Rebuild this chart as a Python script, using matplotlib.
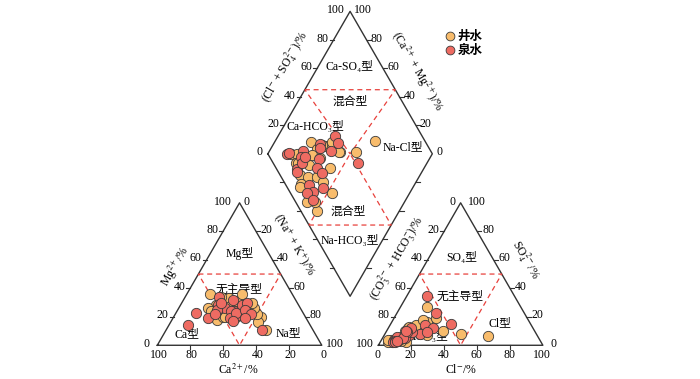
import numpy as np
import matplotlib
matplotlib.use('Agg')
from matplotlib import pyplot as plt

plt.rcParams['font.family'] = ['Liberation Serif', 'DejaVu Serif', 'Noto Sans CJK SC']
plt.rcParams['mathtext.fontset'] = 'stix'

# milliequivalent percentages (cations: Ca/Mg/Na+K, anions: HCO3+CO3/SO4/Cl)
well_na = [21.9, 32.1, 34.6, 43.3, 28.3, 14.0, 17.6, 25.0, 27.0, 53.0, 20.4, 42.8, 29.0, 27.0,
           32.7, 37.8, 43.5, 30.6, 52.7, 40.4, 49.7, 60.7, 45.5, 33.3, 42.7, 30.0, 31.0, 21.9]
well_mg = [28, 24, 22, 26, 30, 36, 26, 20, 33, 20, 24, 22, 27, 18,
           31, 20, 27, 24, 16.6, 29, 22, 11, 26, 36, 30, 20, 20, 34]
well_so4 = [12, 16, 27, 19, 9, 5, 2, 8, 11, 8, 4, 7, 10, 3,
            6, 8, 12, 2.5, 13, 2, 4, 6.5, 3, 14, 10, 18, 4, 3]
well_cl = [18.2, 21.4, 16, 25.6, 22.9, 8.6, 15.5, 13.5, 15.4, 46.2, 9.9, 25.9, 11.4, 9.1,
           10.6, 13.7, 12, 7, 12, 4.8, 5.7, 63.4, 8.9, 16.1, 34.2, 18, 4, 12.2]

spring_na = [28.2, 34.6, 39.0, 37.3, 11.5, 20.3, 21.2, 33.1, 58.3, 23.1, 35.0,
             39.4, 36.2, 40.9, 37.5, 45.8, 43.8, 24.0, 23.9, 23.7, 12.5, 30.0]
spring_mg = [26, 24, 21, 28, 14.5, 34, 19, 24, 11, 28, 19,
             30, 23, 25, 17, 22, 19, 25, 22, 30, 22.5, 32]
spring_so4 = [14, 34.6, 23, 12, 4, 7, 5, 8, 15, 3, 9,
              12, 4, 6, 2, 9, 3, 2, 5, 10, 3, 9]
spring_cl = [21.2, 12.4, 23.6, 27.1, 7.7, 15.1, 13.8, 21.6, 36.8, 9.7, 16.2,
             14.1, 10.3, 8.3, 7.8, 12.6, 8.4, 9, 12.4, 11.6, 10, 25]

groups = ['井水', '泉水']
colors = ['#F8BC6C', '#EE6B62']

H = np.sqrt(3) / 2
GAP = 34.4
OFF = 100 + GAP
DX0 = 50 + GAP / 2
DY0 = 100 * H + GAP * H


def cat_xy(na, mg):
    na, mg = np.asarray(na), np.asarray(mg)
    return na + mg / 2, mg * H


def an_xy(cl, so4):
    cl, so4 = np.asarray(cl), np.asarray(so4)
    return OFF + cl + so4 / 2, so4 * H


def dia_xy(na, a):
    na, a = np.asarray(na), np.asarray(a)
    return DX0 + (a + na) / 2, DY0 + H * (a - na)


fig = plt.figure(figsize=(7.0, 3.79), dpi=100)
ax = fig.add_axes([0, 0, 1, 1])
ax.set_xlim(-95.6, 329.9)
ax.set_ylim(-20.5, 209.9)
ax.set_aspect('equal')
ax.axis('off')

lc = '#333333'
lw = 1.0
fs = 8.5
tl = 2.5

# outlines
tri = np.array([[0, 0], [100, 0], [50, 100 * H], [0, 0]])
ax.plot(tri[:, 0], tri[:, 1], color=lc, lw=lw)
ax.plot(tri[:, 0] + OFF, tri[:, 1], color=lc, lw=lw)
dx, dy = dia_xy([0, 0, 100, 100, 0], [0, 100, 100, 0, 0])
ax.plot(dx, dy, color=lc, lw=lw)

ticks = [0, 20, 40, 60, 80, 100]


def side_gap(v):
    # corner labels pushed a little further out so they clear the base labels
    return 4.5 if v in (0, 100) else 3


# cation triangle ticks & labels
for v in ticks:
    x, y = 100 - v, 0
    if 0 < v < 100:
        ax.plot([x, x], [y, y - tl], color=lc, lw=0.8)
    ax.text(x + 1, -6.2, str(v), ha='center', va='center', fontsize=fs)
    x, y = v / 2, v * H
    if 0 < v < 100:
        ax.plot([x, x - tl], [y, y], color=lc, lw=0.8)
    ax.text(x - side_gap(v), y + 0.8, str(v), ha='right', va='center', fontsize=fs)
    x, y = 50 + v / 2, (100 - v) * H
    if 0 < v < 100:
        ax.plot([x, x + tl], [y, y], color=lc, lw=0.8)
    ax.text(x + 2.5, y + 0.8, str(v), ha='left', va='center', fontsize=fs)

# anion triangle ticks & labels
for v in ticks:
    x, y = OFF + v, 0
    if 0 < v < 100:
        ax.plot([x, x], [y, y - tl], color=lc, lw=0.8)
    ax.text(x - 0.5, -6.2, str(v), ha='center', va='center', fontsize=fs)
    x, y = OFF + (100 - v) / 2, (100 - v) * H
    if 0 < v < 100:
        ax.plot([x, x - tl], [y, y], color=lc, lw=0.8)
    ax.text(x - 3, y + 0.8, str(v), ha='right', va='center', fontsize=fs)
    x, y = OFF + 100 - v / 2, v * H
    if 0 < v < 100:
        ax.plot([x, x + tl], [y, y], color=lc, lw=0.8)
    ax.text(x + side_gap(v), y + 0.8, str(v), ha='left', va='center', fontsize=fs)

# diamond ticks & labels
for v in ticks:
    x, y = dia_xy(0, v)
    if 0 < v < 100:
        ax.plot([x, x - tl], [y, y], color=lc, lw=0.8)
    ax.text(x - 3, y + 0.8, str(v), ha='right', va='center', fontsize=fs)
    x, y = dia_xy(100 - v, 100)
    if 0 < v < 100:
        ax.plot([x, x + tl], [y, y], color=lc, lw=0.8)
    ax.text(x + 2.5, y + 0.8, str(v), ha='left', va='center', fontsize=fs)
    if 0 < v < 100:
        x, y = dia_xy(v, 0)
        ax.plot([x, x - tl], [y, y], color=lc, lw=0.8)
        x, y = dia_xy(100, v)
        ax.plot([x, x + tl], [y, y], color=lc, lw=0.8)

# axis titles
ax.text(49.2, -15.0, r'Ca$^{2+}$/%', ha='center', va='center', fontsize=fs)
ax.text(10.8, 47.8, r'Mg$^{2+}$/%', ha='center', va='center', fontsize=fs, rotation=60)
ax.text(82.7, 61.0, r'(Na$^{+}$ + K$^{+}$)/%', ha='center', va='center', fontsize=fs, rotation=-60)
ax.text(184.6, -15.0, r'Cl$^{-}$/%', ha='center', va='center', fontsize=fs)
ax.text(145.7, 53.1, r'(CO$_3^{2-}$ + HCO$_3^{-}$)/%', ha='center', va='center', fontsize=fs, rotation=60)
ax.text(223.5, 51.9, r'SO$_4^{2-}$/%', ha='center', va='center', fontsize=fs, rotation=-60)
ax.text(77.6, 169.4, r'(Cl$^{-}$ + SO$_4^{2-}$)/%', ha='center', va='center', fontsize=fs, rotation=60)
ax.text(157.7, 166.3, r'(Ca$^{2+}$ + Mg$^{2+}$)/%', ha='center', va='center', fontsize=fs, rotation=-60)

# dashed division lines
dc = '#E8413C'
dk = dict(color=dc, lw=0.9, ls=(0, (4, 3)))
ax.plot([25, 75, 50, 25], [50 * H, 50 * H, 0, 50 * H], **dk)
ax.plot([OFF + 25, OFF + 75, OFF + 50, OFF + 25], [50 * H, 50 * H, 0, 50 * H], **dk)
x, y = dia_xy([0, 55, 50, 0], [45, 100, 50, 45])
ax.plot(x, y, **dk)
x, y = dia_xy([50, 100, 50, 50], [0, 50, 50, 0])
ax.plot(x, y, **dk)

# type labels
lab = [
    (117.1, 169.2, 'Ca-SO₄型'), (117.1, 148.0, '混合型'), (95.9, 132.9, 'Ca-HCO₃型'),
    (149.5, 120.7, 'Na-Cl型'), (116.1, 81.2, '混合型'), (117.1, 63.6, 'Na-HCO₃型'),
    (49.8, 55.5, 'Mg型'), (49.8, 33.6, '无主导型'), (17.9, 6.9, 'Ca型'), (79.6, 7.3, 'Na型'),
    (185.0, 52.9, 'SO₄型'), (184.0, 29.5, '无主导型'), (164.7, 4.9, 'HCO₃型'), (208.3, 13.4, 'Cl型'),
]
for x, y, s in lab:
    ax.text(x, y, s, ha='center', va='center', fontsize=fs, zorder=2)

# samples
data = [(well_na, well_mg, well_cl, well_so4), (spring_na, spring_mg, spring_cl, spring_so4)]
for (na, mg, cl, so4), c, g in zip(data, colors, groups):
    na, mg, cl, so4 = map(np.asarray, (na, mg, cl, so4))
    kw = dict(s=55, color=c, edgecolor='#3a3a3a', linewidths=0.6, zorder=3)
    ax.scatter(*cat_xy(na, mg), **kw)
    ax.scatter(*an_xy(cl, so4), **kw)
    ax.scatter(*dia_xy(na, cl + so4), **kw)

# legend
for i, (g, c) in enumerate(zip(groups, colors)):
    ax.scatter([178.0], [188.0 - 8.5 * i], s=40, color=c, edgecolor='#3a3a3a', linewidths=0.6)
    ax.text(182.5, 188.0 - 8.5 * i, g, ha='left', va='center', fontsize=9, fontweight='bold',
            family=['Noto Sans CJK SC'])

fig.savefig('out.png', dpi=100)
